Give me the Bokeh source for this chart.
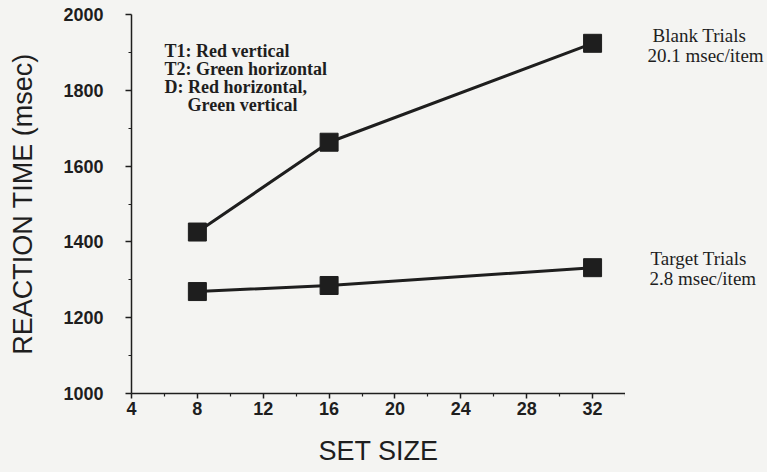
from bokeh.plotting import figure
from bokeh.layouts import row
from bokeh.models import Range1d, FixedTicker, Label, ColumnDataSource
from bokeh.embed import file_html
from bokeh.resources import INLINE

# Data
set_size = [8, 16, 32]
blank_rt = [1426, 1663, 1924]
target_rt = [1269, 1285, 1332]

x_major = [4, 8, 12, 16, 20, 24, 28, 32]
x_minor = [6, 10, 14, 18, 22, 26, 30, 34]
y_major = [1000, 1200, 1400, 1600, 1800, 2000]
y_minor = [1100, 1300, 1500, 1700, 1900]

legend_lines = ["T1: Red vertical", "T2: Green horizontal", "D: Red horizontal,", "Green vertical"]
blank_lines = ["Blank Trials", "20.1 msec/item"]
target_lines = ["Target Trials", "2.8 msec/item"]

BG = "#f4f4f2"
INK = "#1e1e1e"

p = figure(width=625, height=472, output_backend="svg", toolbar_location=None,
           x_range=Range1d(4, 34), y_range=Range1d(1000, 2000),
           min_border_left=131, min_border_right=0, min_border_top=14, min_border_bottom=79)
p.background_fill_color = BG
p.border_fill_color = BG
p.outline_line_color = None
p.grid.visible = False

for ax in (p.xaxis[0], p.yaxis[0]):
    ax.axis_line_color = INK
    ax.axis_line_width = 1.5
    ax.major_tick_line_color = INK
    ax.minor_tick_line_color = INK
    ax.major_tick_line_width = 1.5
    ax.minor_tick_line_width = 1.2
    ax.major_tick_in = 0
    ax.minor_tick_in = 0
    ax.major_label_text_font = "Liberation Sans"
    ax.major_label_text_font_style = "bold"
    ax.major_label_text_font_size = "18px"
    ax.major_label_text_color = INK
    ax.axis_label_text_font = "Liberation Sans"
    ax.axis_label_text_font_style = "normal"
    ax.axis_label_text_font_size = "27px"
    ax.axis_label_text_color = INK

p.xaxis.ticker = FixedTicker(ticks=x_major, minor_ticks=x_minor)
p.yaxis.ticker = FixedTicker(ticks=y_major, minor_ticks=y_minor)
p.xaxis.major_tick_out = 5
p.xaxis.minor_tick_out = 3
p.yaxis.major_tick_out = 6
p.yaxis.minor_tick_out = 3
p.xaxis.major_label_standoff = 3
p.yaxis.major_label_standoff = 22
p.xaxis.axis_label = "SET SIZE"
p.yaxis.axis_label = "REACTION TIME (msec)"
p.xaxis.axis_label_standoff = 18
p.yaxis.axis_label_standoff = 22

src_b = ColumnDataSource(dict(x=set_size, y=blank_rt))
src_t = ColumnDataSource(dict(x=set_size, y=target_rt))
for src in (src_b, src_t):
    p.line("x", "y", source=src, line_color=INK, line_width=3)
    p.scatter("x", "y", source=src, marker="square", size=18, fill_color=INK, line_color=INK)

def add_label(fig, x, y, text, size="19px", style="normal"):
    fig.add_layout(Label(x=x, y=y, text=text, text_font="Liberation Serif", text_font_size=size,
                         text_font_style=style, text_color=INK, text_baseline="middle",
                         text_align="left"))

legend_x = [6.0, 6.0, 6.0, 7.4]
legend_y = [1905, 1857, 1808, 1760]
for xx, yy, t in zip(legend_x, legend_y, legend_lines):
    add_label(p, xx, yy, t, size="18px", style="bold")

# right-hand panel for the series annotations
q = figure(width=142, height=472, output_backend="svg", toolbar_location=None,
           x_range=Range1d(0, 142), y_range=Range1d(1000, 2000),
           x_axis_location=None, y_axis_location=None,
           min_border_left=0, min_border_right=0, min_border_top=14, min_border_bottom=79)
q.background_fill_color = BG
q.border_fill_color = BG
q.outline_line_color = None
q.grid.visible = False

add_label(q, 27, 1945, blank_lines[0])
add_label(q, 22, 1892, blank_lines[1])
add_label(q, 25, 1356, target_lines[0])
add_label(q, 24, 1303, target_lines[1])

layout = row(p, q, spacing=0, styles={"background-color": BG})
open("out.html", "w").write(file_html(layout, INLINE))
